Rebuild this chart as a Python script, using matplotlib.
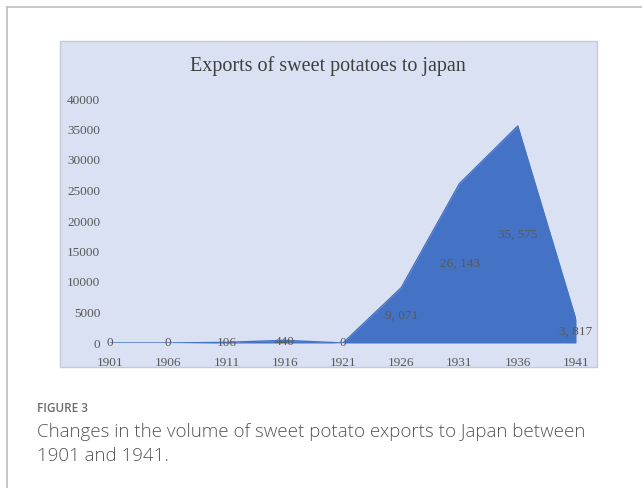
import matplotlib.pyplot as plt
from matplotlib.patches import Rectangle
from matplotlib.lines import Line2D

# data
years = ['1901', '1906', '1911', '1916', '1921', '1926', '1931', '1936', '1941']
exports = [0, 0, 106, 440, 0, 9071, 26143, 35575, 3817]
y_ticks = [0, 5000, 10000, 15000, 20000, 25000, 30000, 35000, 40000]

W, H = 642, 488
fig = plt.figure(figsize=(W / 100, H / 100), dpi=100)
fig.patch.set_facecolor('white')

# helper to go from pixel coords (top-left origin) to figure fraction
def fx(px):
    return px / W

def fy(py):
    return 1 - py / H

# outer frame of the figure box (only left and top visible)
fig.add_artist(Line2D([fx(7), fx(7)], [fy(7), 0], color='#bdbdbd', lw=1.2))
fig.add_artist(Line2D([fx(7), 1], [fy(7), fy(7)], color='#bdbdbd', lw=1.2))

# light blue chart panel, behind the axes
fig.add_artist(Rectangle((fx(60), fy(367)), fx(597) - fx(60), fy(41) - fy(367),
                         transform=fig.transFigure, facecolor='#dae1f2',
                         edgecolor='#c4cad6', lw=1, zorder=-1))

# plot area: 1901 at x=110, 1941 at x=576, 0 at y=343, 40000 at y=99
ax = fig.add_axes([fx(110), fy(343), fx(576) - fx(110), fy(99) - fy(343)])
ax.set_facecolor('none')
x = list(range(len(years)))
ax.fill_between(x, exports, 0, color='#4472c4', lw=0)
ax.plot(x, exports, color='#4472c4', lw=1)
ax.axhline(0, color='#b3bdd0', lw=1, zorder=0)
ax.set_xlim(0, len(years) - 1)
ax.set_ylim(0, 40000)
for s in ax.spines.values():
    s.set_visible(False)

serif = 'Liberation Serif'
txt = '#595959'
ax.set_xticks(x)
ax.set_xticklabels(years, fontsize=9.5, family=serif, color=txt)
ax.set_yticks(y_ticks)
ax.set_yticklabels([str(v) for v in y_ticks], fontsize=9.5, family=serif, color=txt)
ax.tick_params(length=0)
ax.tick_params(axis='x', pad=10)
ax.tick_params(axis='y', pad=7)

# data labels sit in the middle of the area, "9, 071" style
for i, v in enumerate(exports):
    lab = f'{v:,}'.replace(',', ', ')
    ax.text(i, v / 2, lab, ha='center', va='center', fontsize=9.5,
            family=serif, color=txt, clip_on=False)

fig.text(fx(328), fy(66), 'Exports of sweet potatoes to japan', ha='center',
         va='center', fontsize=14.5, family=serif, color='#404040')

# caption below the chart
fig.text(fx(37), fy(408), 'FIGURE 3', ha='left', va='center', fontsize=8.5,
         family='Open Sans', weight='semibold', color='#6b6b6b')
fig.text(fx(37), fy(432), 'Changes in the volume of sweet potato exports to Japan between',
         ha='left', va='center', fontsize=13.5, family='Open Sans', weight='light',
         color='#555555')
fig.text(fx(37), fy(456), '1901 and 1941.', ha='left', va='center', fontsize=13.5,
         family='Open Sans', weight='light', color='#555555')

fig.savefig('out.png', dpi=100)
